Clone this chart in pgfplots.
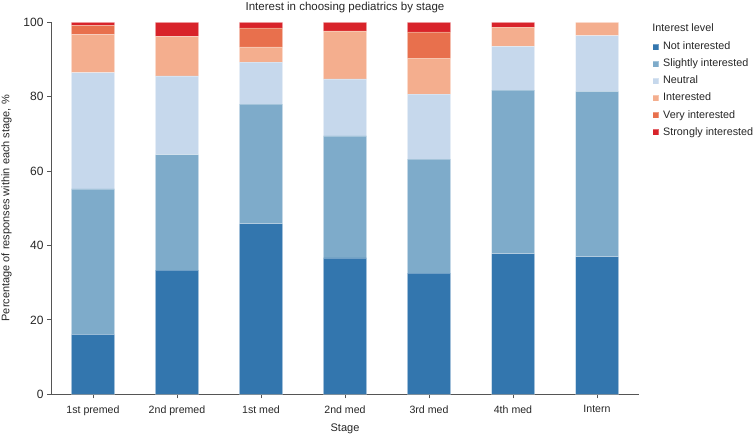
\documentclass[border=0pt]{standalone}
\usepackage{fontspec}
\setmainfont{Liberation Sans}
\usepackage{pgfplots}
\pgfplotsset{compat=1.18}
\definecolor{cNot}{HTML}{3376AE}
\definecolor{cSli}{HTML}{7EABCA}
\definecolor{cNeu}{HTML}{C6D8EC}
\definecolor{cInt}{HTML}{F4AE8E}
\definecolor{cVer}{HTML}{E8704D}
\definecolor{cStr}{HTML}{D8232A}
\definecolor{axgray}{HTML}{555555}
\begin{document}
\begin{tikzpicture}
\path[use as bounding box] (0,0) rectangle (754bp,436bp);
\begin{axis}[
  at={(51bp,41.7bp)}, anchor=south west,
  scale only axis, width=588bp, height=372bp,
  ybar stacked, bar width=43bp,
  xmin=-0.5, xmax=6.5, ymin=0, ymax=100,
  clip=false,
  xtick={0,1,2,3,4,5,6},
  xticklabels={1st premed,2nd premed,1st med,2nd med,3rd med,4th med,Intern},
  ytick={0,20,40,60,80,100},
  axis x line*=bottom, axis y line*=left,
  axis line style={axgray, line width=0.8bp},
  tick style={axgray, line width=0.8bp},
  tick align=outside, major tick length=4bp,
  /pgf/number format/assume math mode=true,
  x tick label style={font=\fontsize{10.6bp}{12bp}\selectfont, text=black!85, yshift=-3.5bp},
  y tick label style={font=\fontsize{12bp}{14bp}\selectfont, text=black!85},
  xlabel={Stage},
  ylabel={Percentage of responses within each stage, \%},
  xlabel style={at={(axis description cs:0.5,-0.0914)}, anchor=center, font=\fontsize{11bp}{13bp}\selectfont, text=black!85},
  ylabel style={at={(axis description cs:-0.0755,0.5)}, anchor=center, font=\fontsize{11bp}{13bp}\selectfont, text=black!85},
  legend style={at={(axis description cs:1.0226,0.948)}, anchor=north west, draw=none, fill=none, inner sep=0pt, outer sep=0pt,
    font=\fontsize{10.8bp}{13bp}\selectfont, text=black!85,
    nodes={inner sep=0pt, text height=8bp, text depth=2.5bp, anchor=west},
    row sep=6.6bp, column sep=4.4bp},
  legend cell align=left,
  legend image code/.code={\fill[#1] (0bp,-3bp) rectangle (6bp,3bp);},
  every axis plot/.append style={draw=white, draw opacity=0.3, line width=0.5bp},
]
\addplot[fill=cNot] coordinates {(0,16.1) (1,33.4) (2,45.9) (3,36.7) (4,32.6) (5,37.8) (6,37.0)};
\addlegendentry{Not interested}
\addplot[fill=cSli] coordinates {(0,39.1) (1,31.0) (2,32.1) (3,32.8) (4,30.6) (5,44.0) (6,44.4)};
\addlegendentry{Slightly interested}
\addplot[fill=cNeu] coordinates {(0,31.3) (1,21.2) (2,11.3) (3,15.3) (4,17.5) (5,11.7) (6,15.0)};
\addlegendentry{Neutral}
\addplot[fill=cInt] coordinates {(0,10.2) (1,10.6) (2,4.1) (3,12.9) (4,9.7) (5,5.2) (6,3.6)};
\addlegendentry{Interested}
\addplot[fill=cVer] coordinates {(0,2.5) (1,0) (2,5.1) (3,0) (4,7.0) (5,0) (6,0)};
\addlegendentry{Very interested}
\addplot[fill=cStr] coordinates {(0,0.8) (1,3.8) (2,1.5) (3,2.3) (4,2.6) (5,1.3) (6,0)};
\addlegendentry{Strongly interested}
\node[anchor=west, inner sep=0pt, font=\fontsize{10.8bp}{13bp}\selectfont, text=black!85] at (rel axis cs:1.0226,0.9847) {Interest level};
\node[anchor=center, inner sep=0pt, font=\fontsize{11.5bp}{13bp}\selectfont, text=black!85] at (rel axis cs:0.5,1.0384) {Interest in choosing pediatrics by stage};
\end{axis}
\end{tikzpicture}
\end{document}
